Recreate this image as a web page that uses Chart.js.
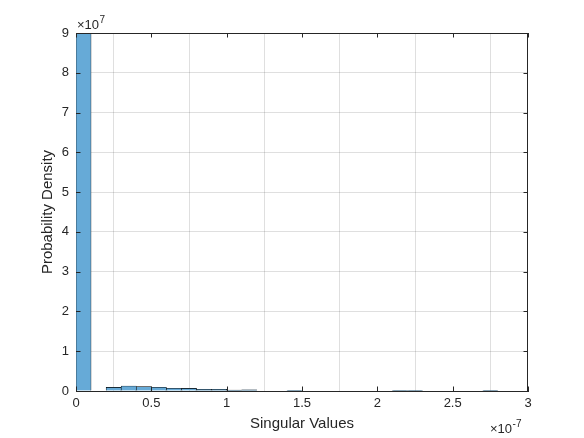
<!DOCTYPE html>
<html>
<head>
<meta charset="utf-8">
<script src="https://cdn.jsdelivr.net/npm/chart.js@4/dist/chart.umd.min.js"></script>
<style>
  html, body { margin: 0; padding: 0; background: #ffffff; }
  #wrap { width: 584px; height: 438px; }
</style>
</head>
<body>
<div id="wrap"><canvas id="c" width="584" height="438"></canvas></div>
<script>
// Bin centers (units of 1e-7) and probability density (units of 1e7)
const binCenters = [0.05,0.15,0.25,0.35,0.45,0.55,0.65,0.75,0.85,0.95,
                    1.05,1.15,1.25,1.35,1.45,1.55,1.65,1.75,1.85,1.95,
                    2.05,2.15,2.25,2.35,2.45,2.55,2.65,2.75,2.85,2.95];
const density = [9.3,0,0.09,0.125,0.11,0.095,0.07,0.065,0.04,0.04,
                 0.02,0.03,0,0,0.01,0,0,0,0,0,
                 0,0.008,0.008,0,0,0,0,0.005,0,0];
const xTicks = [0,0.5,1,1.5,2,2.5,3];
const yTicks = [0,1,2,3,4,5,6,7,8,9];
const xLabel = 'Singular Values';
const yLabel = 'Probability Density';
const xExponent = '-7';
const yExponent = '7';

const FONT = "'Liberation Sans', Arial, Helvetica, sans-serif";
const DARK = '#262626';

const boxPlugin = {
  id: 'boxPlugin',
  afterDraw(chart) {
    const ctx = chart.ctx;
    const a = chart.chartArea;
    const xs = chart.scales.x, ys = chart.scales.y;
    ctx.save();
    ctx.strokeStyle = DARK;
    ctx.lineWidth = 1;
    ctx.beginPath();
    ctx.moveTo(a.left, a.top + 0.5);
    ctx.lineTo(a.right, a.top + 0.5);
    ctx.moveTo(a.right - 0.5, a.top);
    ctx.lineTo(a.right - 0.5, a.bottom);
    ctx.stroke();
    const tl = 4.5;
    ctx.beginPath();
    xTicks.forEach(v => {
      const px = Math.round(xs.getPixelForValue(v)) + 0.5;
      ctx.moveTo(px, a.bottom); ctx.lineTo(px, a.bottom - tl);
      ctx.moveTo(px, a.top); ctx.lineTo(px, a.top + tl);
    });
    yTicks.forEach(v => {
      const py = Math.round(ys.getPixelForValue(v)) + 0.5;
      ctx.moveTo(a.left, py); ctx.lineTo(a.left + tl, py);
      ctx.moveTo(a.right, py); ctx.lineTo(a.right - tl, py);
    });
    ctx.stroke();
    ctx.fillStyle = DARK;
    ctx.textBaseline = 'alphabetic';
    ctx.textAlign = 'left';
    const drawExp = (x, y, exp) => {
      ctx.font = '13px ' + FONT;
      ctx.fillText('\u00d710', x, y);
      const w = ctx.measureText('\u00d710').width;
      ctx.font = '10px ' + FONT;
      ctx.fillText(exp, x + w + 0.5, y - 6);
    };
    drawExp(a.left + 1, 29, yExponent);
    drawExp(490, 433, xExponent);
    ctx.restore();
  }
};

new Chart(document.getElementById('c'), {
  type: 'bar',
  data: {
    datasets: [{
      data: binCenters.map((x, i) => ({ x: x, y: density[i] })),
      backgroundColor: 'rgb(102,170,215)',
      borderColor: '#000000',
      borderWidth: 0.6,
      borderSkipped: 'start',
      barPercentage: 1.0,
      categoryPercentage: 1.0
    }]
  },
  options: {
    responsive: false,
    animation: false,
    devicePixelRatio: 1,
    layout: { padding: { left: 38, top: 33, right: 56, bottom: 0 } },
    plugins: { legend: { display: false }, tooltip: { enabled: false } },
    scales: {
      x: {
        type: 'linear',
        min: 0, max: 3,
        offset: false,
        afterFit: s => { s.height = 47; },
        afterBuildTicks: s => { s.ticks = xTicks.map(v => ({ value: v })); },
        ticks: { color: DARK, font: { family: FONT, size: 13 }, padding: 5, maxRotation: 0,
                 callback: v => String(v) },
        grid: { color: 'rgba(38,38,38,0.15)', drawTicks: false },
        border: { color: DARK, width: 1 },
        title: { display: true, text: xLabel, color: DARK, font: { family: FONT, size: 15 }, padding: { top: 0, bottom: 5 } }
      },
      y: {
        type: 'linear',
        min: 0, max: 9,
        afterFit: s => { s.width = 38; },
        afterBuildTicks: s => { s.ticks = yTicks.map(v => ({ value: v })); },
        ticks: { color: DARK, font: { family: FONT, size: 13 }, padding: 7, callback: v => String(v) },
        grid: { color: 'rgba(38,38,38,0.15)', drawTicks: false },
        border: { color: DARK, width: 1 },
        title: { display: true, text: yLabel, color: DARK, font: { family: FONT, size: 15 }, padding: { top: 1, bottom: 0 } }
      }
    }
  },
  plugins: [boxPlugin]
});
</script>
</body>
</html>
